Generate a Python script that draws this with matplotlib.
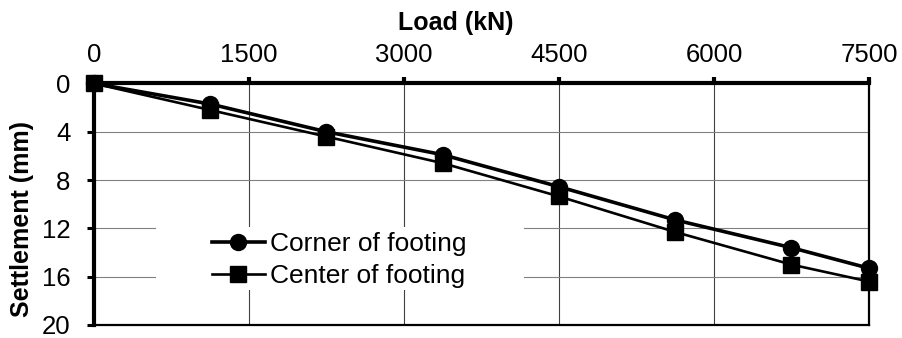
import matplotlib
matplotlib.use('Agg')
import matplotlib.pyplot as plt
from matplotlib.patches import Rectangle

plt.rcParams['font.family'] = ['Liberation Sans', 'DejaVu Sans']

# load steps (kN) and measured settlements (mm)
load = [0, 1125, 2250, 3375, 4500, 5625, 6750, 7500]
corner = [0, 1.7, 4.0, 5.9, 8.55, 11.3, 13.6, 15.3]
center = [0, 2.2, 4.4, 6.6, 9.35, 12.3, 15.0, 16.4]

x_ticks = [0, 1500, 3000, 4500, 6000, 7500]
y_ticks = [0, 4, 8, 12, 16, 20]

fig = plt.figure(figsize=(9.02, 3.38), dpi=100)
ax = fig.add_axes([0.1042, 0.0385, 0.8592, 0.7145])

ax.set_xlim(0, 7500)
ax.set_ylim(20, 0)
ax.set_xticks(x_ticks)
ax.set_yticks(y_ticks)
ax.xaxis.tick_top()

ax.tick_params(axis='x', which='major', labelsize=18.5, length=4, width=3,
               direction='out', pad=8)
ax.tick_params(axis='y', which='major', labelsize=18.5, length=5, width=2.2,
               direction='out', pad=12)

for s, lw in (('top', 3.0), ('left', 3.0), ('right', 1.6), ('bottom', 1.6)):
    ax.spines[s].set_linewidth(lw)
    ax.spines[s].set_color('black')

ax.set_axisbelow(True)
ax.xaxis.grid(True, color='#404040', lw=0.8)
ax.yaxis.grid(True, color='#808080', lw=0.8)

# white block behind the legend hides the gridlines there
ax.add_patch(Rectangle((0.08, 0.145), 0.475, 0.261, transform=ax.transAxes,
                       facecolor='white', edgecolor='none', zorder=1.5))

ax.plot(load, corner, '-o', color='black', lw=2.6, ms=11.5,
        label='Corner of footing', zorder=3, clip_on=False)
ax.plot(load, center, '-s', color='black', lw=1.9, ms=12,
        label='Center of footing', zorder=4, clip_on=False)

ax.legend(loc='center left', bbox_to_anchor=(0.152, 0.27), frameon=False,
          fontsize=19, handlelength=2.0, handletextpad=0.2,
          labelspacing=0.3, borderpad=0, borderaxespad=0)

fig.text(0.5055, 0.932, 'Load (kN)', ha='center', va='center',
         fontsize=18, fontweight='bold')
fig.text(0.0244, 0.352, 'Settlement (mm)', ha='center', va='center',
         rotation=90, fontsize=18, fontweight='bold')

fig.savefig('out.png', dpi=100)
